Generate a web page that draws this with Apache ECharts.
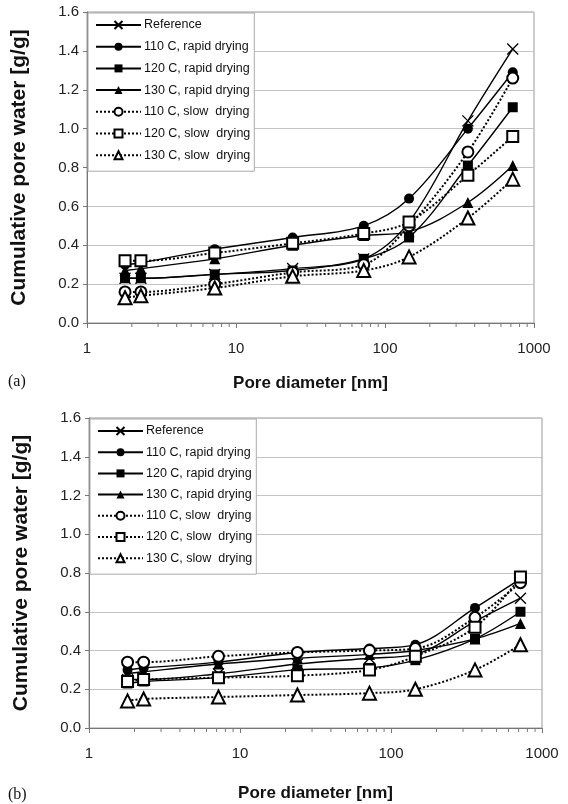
<!DOCTYPE html>
<html>
<head>
<meta charset="utf-8">
<script src="https://cdn.jsdelivr.net/npm/echarts@6/dist/echarts.min.js"></script>
<style>
  html, body { margin: 0; padding: 0; background: #fff; }
  #main { width: 568px; height: 804px; }
</style>
</head>
<body>
<div id="main"></div>
<script>
// pore diameters [nm]
const poreDiameter = [1.8, 2.3, 7.2, 24, 72, 145, 360, 720]
const seriesNames = ['Reference', '110 C, rapid drying', '120 C, rapid drying', '130 C, rapid drying',
  '110 C, slow  drying', '120 C, slow  drying', '130 C, slow  drying']

// panel (a)
const refA = [0.23, 0.23, 0.25, 0.28, 0.33, 0.52, 1.04, 1.41]
const rapid110A = [0.30, 0.31, 0.38, 0.44, 0.50, 0.64, 1.00, 1.29]
const rapid120A = [0.23, 0.23, 0.25, 0.27, 0.33, 0.44, 0.81, 1.11]
const rapid130A = [0.27, 0.28, 0.33, 0.40, 0.45, 0.47, 0.62, 0.81]
const slow110A = [0.16, 0.16, 0.20, 0.26, 0.30, 0.50, 0.88, 1.26]
const slow120A = [0.32, 0.32, 0.36, 0.41, 0.46, 0.52, 0.76, 0.96]
const slow130A = [0.13, 0.14, 0.18, 0.24, 0.27, 0.34, 0.54, 0.74]

// panel (b)
const refB = [0.25, 0.25, 0.28, 0.33, 0.36, 0.38, 0.55, 0.67]
const rapid110B = [0.30, 0.31, 0.34, 0.39, 0.41, 0.43, 0.62, 0.77]
const rapid120B = [0.23, 0.24, 0.26, 0.30, 0.31, 0.35, 0.46, 0.60]
const rapid130B = [0.28, 0.29, 0.33, 0.36, 0.38, 0.40, 0.46, 0.54]
const slow110B = [0.34, 0.34, 0.37, 0.39, 0.40, 0.41, 0.57, 0.75]
const slow120B = [0.24, 0.25, 0.26, 0.27, 0.30, 0.37, 0.52, 0.78]
const slow130B = [0.14, 0.15, 0.16, 0.17, 0.18, 0.20, 0.30, 0.43]

const minorTickValues = [2, 3, 4, 5, 6, 7, 8, 9, 20, 30, 40, 50, 60, 70, 80, 90, 200, 300, 400, 500, 600, 700, 800, 900]

const crossPath = 'path://M0,0L10,10M10,0L0,10'
const symbols = [crossPath, 'circle', 'rect', 'triangle', 'emptyCircle', 'emptyRect', 'emptyTriangle']
const symbolSizes = [11, 10, 10, 11, 11, 11, 13]

const panels = [
  [refA, rapid110A, rapid120A, rapid130A, slow110A, slow120A, slow130A],
  [refB, rapid110B, rapid120B, rapid130B, slow110B, slow120B, slow130B]
]
const grids = [
  { left: 87, top: 12, width: 447, height: 311 },
  { left: 89, top: 418, width: 453, height: 310 }
]
const xNameGaps = [52, 57]

const fontMain = 'Liberation Sans, Arial, sans-serif'

let series = []
panels.forEach((panel, p) => {
  panel.forEach((vals, i) => {
    const dotted = i >= 4
    series.push({
      name: seriesNames[i],
      type: 'line',
      xAxisIndex: p,
      yAxisIndex: p,
      data: poreDiameter.map((x, k) => [x, vals[k]]),
      smooth: 0.35,
      symbol: symbols[i],
      symbolSize: symbolSizes[i],
      lineStyle: { color: '#000', width: dotted ? 2 : 1.4, type: dotted ? 'dotted' : 'solid' },
      itemStyle: i === 0
        ? { color: '#000', borderColor: '#000', borderWidth: 1.3 }
        : { color: '#000', borderColor: '#000', borderWidth: dotted ? 1.2 : 0 },
      emphasis: { disabled: true },
      z: 3
    })
  })
  // minor ticks of the log axis
  series.push({
    type: 'custom',
    xAxisIndex: p,
    yAxisIndex: p,
    silent: true,
    clip: false,
    data: minorTickValues.map(v => [v, 0]),
    renderItem: (params, api) => {
      const pt = api.coord([api.value(0), api.value(1)])
      return {
        type: 'line',
        shape: { x1: pt[0], y1: pt[1], x2: pt[0], y2: pt[1] + 4 },
        style: { stroke: '#777', lineWidth: 1 }
      }
    }
  })
})

const xAxisBase = (p) => ({
  type: 'log',
  logBase: 10,
  gridIndex: p,
  min: 1,
  max: 1000,
  name: 'Pore diameter [nm]',
  nameLocation: 'middle',
  nameGap: xNameGaps[p],
  nameTextStyle: { fontFamily: fontMain, fontWeight: 'bold', fontSize: 17, color: '#111' },
  axisLine: { lineStyle: { color: '#777', width: 1 } },
  axisTick: { show: true, length: 5, lineStyle: { color: '#777' } },
  axisLabel: { fontFamily: fontMain, fontSize: 15, color: '#222', margin: 18, formatter: v => String(Math.round(v)) },
  splitLine: { show: false }
})

const yAxisBase = (p) => ({
  type: 'value',
  gridIndex: p,
  min: 0,
  max: 1.6,
  interval: 0.2,
  name: 'Cumulative pore water [g/g]',
  nameLocation: 'middle',
  nameRotate: 90,
  nameGap: 57,
  nameTextStyle: { fontFamily: fontMain, fontWeight: 'bold', fontSize: 21, color: '#111' },
  axisLine: { show: true, lineStyle: { color: '#777', width: 1 } },
  axisTick: { show: true, length: 4, lineStyle: { color: '#777' } },
  axisLabel: { fontFamily: fontMain, fontSize: 15, color: '#222', margin: 8, formatter: v => v.toFixed(1) },
  splitLine: { show: true, lineStyle: { color: '#c4c4c4', width: 1 } }
})

const legendBase = (left, top, gap) => ({
  orient: 'vertical',
  left: left,
  top: top,
  data: seriesNames,
  itemWidth: 45,
  itemHeight: 10,
  itemGap: gap,
  padding: [5, 4, 9, 7],
  backgroundColor: '#fff',
  borderColor: '#aaa',
  borderWidth: 1,
  borderRadius: 0,
  selectedMode: false,
  textStyle: { fontFamily: fontMain, fontSize: 12.5, lineHeight: 14, color: '#111', padding: [0, 0, 0, -2] }
})

const option = {
  animation: false,
  backgroundColor: '#fff',
  grid: grids.map(g => Object.assign({ show: true, borderColor: '#999', borderWidth: 1, backgroundColor: 'transparent' }, g)),
  xAxis: [xAxisBase(0), xAxisBase(1)],
  yAxis: [yAxisBase(0), yAxisBase(1)],
  legend: [legendBase(88, 13, 7.7), legendBase(90, 419, 7.2)],
  graphic: [
    { type: 'text', left: 8, top: 374, style: { text: '(a)', font: '16px Liberation Serif, serif', fill: '#111' } },
    { type: 'text', left: 8, top: 787, style: { text: '(b)', font: '16px Liberation Serif, serif', fill: '#111' } }
  ],
  series: series
}

const myChart = echarts.init(document.getElementById('main'))
myChart.setOption(option)
</script>
</body>
</html>
